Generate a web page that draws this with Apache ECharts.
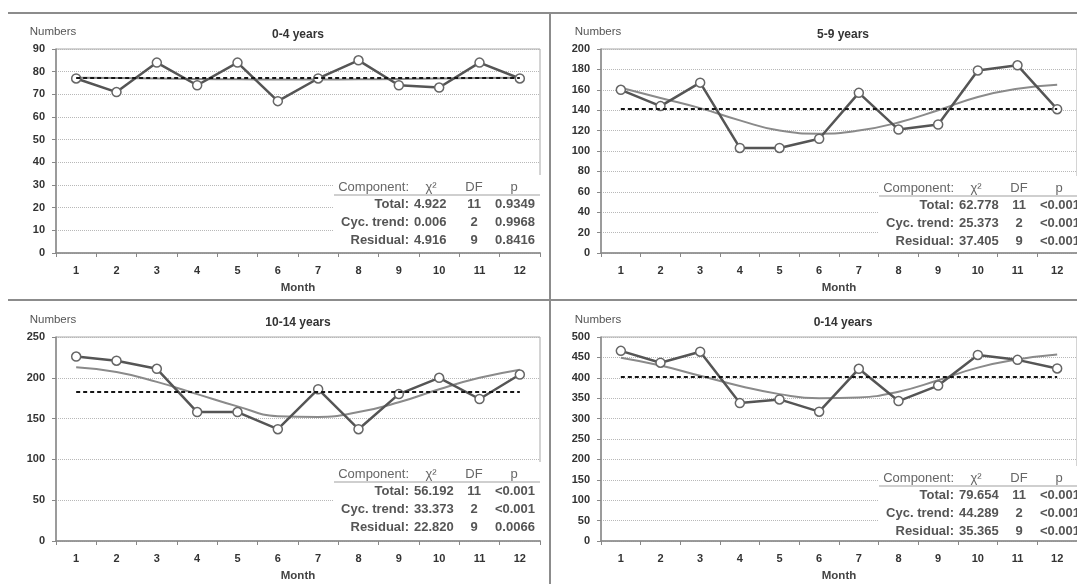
<!DOCTYPE html>
<html><head><meta charset="utf-8">
<script src="https://cdn.jsdelivr.net/npm/echarts@6/dist/echarts.min.js"></script>
<style>html,body{margin:0;padding:0;background:#fff}#c{width:1077px;height:584px}</style>
</head><body><div id="c"></div>
<script>
// ---------- data ----------
const months = ['1','2','3','4','5','6','7','8','9','10','11','12'];
const titles = ['0-4 years', '5-9 years', '10-14 years', '0-14 years'];

const obs0to4   = [77, 71, 84, 74, 84, 67, 77, 85, 74, 73, 84, 77];
const trend0to4 = [77.3, 77.2, 77.0, 76.8, 76.6, 76.5, 76.5, 76.6, 76.8, 77.0, 77.2, 77.3];

const obs5to9   = [160, 144, 167, 103, 103, 112, 157, 121, 126, 179, 184, 141];
const trend5to9 = [162, 152, 142, 130, 120, 117, 120, 128, 140, 153, 161, 165];

const obs10to14   = [226, 221, 211, 158, 158, 137, 186, 137, 180, 200, 174, 204];
const trend10to14 = [213, 207, 195, 180, 165, 153, 152, 158, 170, 186, 200, 210];

const obs0to14   = [466, 437, 464, 338, 347, 317, 422, 343, 381, 456, 444, 423];
const trend0to14 = [449, 430, 405, 380, 360, 350, 352, 366, 394, 425, 445, 457];

const means = [77.3, 141.3, 182.7, 403.2];
const yMax  = [90, 200, 250, 500];
const yStep = [10, 20, 50, 50];

const rowLabels = ['Total:', 'Cyc. trend:', 'Residual:'];
const dfValues  = ['11', '2', '9'];
const chi0to4   = ['4.922', '0.006', '4.916'];
const p0to4     = ['0.9349', '0.9968', '0.8416'];
const chi5to9   = ['62.778', '25.373', '37.405'];
const p5to9     = ['<0.001', '<0.001', '<0.001'];
const chi10to14 = ['56.192', '33.373', '22.820'];
const p10to14   = ['<0.001', '<0.001', '0.0066'];
const chi0to14  = ['79.654', '44.289', '35.365'];
const p0to14    = ['<0.001', '<0.001', '<0.001'];

const observed = [obs0to4, obs5to9, obs10to14, obs0to14];
const trends   = [trend0to4, trend5to9, trend10to14, trend0to14];
const chis     = [chi0to4, chi5to9, chi10to14, chi0to14];
const ps       = [p0to4, p5to9, p10to14, p0to14];

// ---------- layout ----------
const FONT = 'Liberation Sans';
const panels = [
  {left: 56, top: 49, head: 66},
  {left: 601, top: 49, head: 65},
  {left: 56, top: 337, head: 67},
  {left: 601, top: 337, head: 63}
];
const W = 484, H = 204;

const grid = [], xAxis = [], yAxis = [], series = [], graphic = [];

panels.forEach((p, i) => {
  grid.push({left: p.left, top: p.top, width: W, height: H, show: true,
    borderColor: '#a8a8a8', borderWidth: 1, containLabel: false});
  xAxis.push({
    type: 'category', gridIndex: i, data: months, boundaryGap: true,
    axisLine: {lineStyle: {color: '#888', width: 1.5}},
    axisTick: {show: true, length: 4, lineStyle: {color: '#888'}},
    axisLabel: {margin: 12, color: '#333', fontFamily: FONT, fontWeight: 'bold', fontSize: 11},
    name: 'Month', nameLocation: 'middle', nameGap: 29,
    nameTextStyle: {color: '#444', fontFamily: FONT, fontWeight: 'bold', fontSize: 11.5},
    splitLine: {show: false}
  });
  yAxis.push({
    type: 'value', gridIndex: i, min: 0, max: yMax[i], interval: yStep[i],
    axisLine: {show: true, lineStyle: {color: '#888', width: 1.5}},
    axisTick: {show: true, length: 4, lineStyle: {color: '#888'}},
    axisLabel: {margin: 11, color: '#333', fontFamily: FONT, fontWeight: 'bold', fontSize: 11},
    splitLine: {show: true, lineStyle: {color: '#b8b8b8', type: 'dotted', width: 1}}
  });
  series.push({
    type: 'line', xAxisIndex: i, yAxisIndex: i, data: trends[i], smooth: true,
    symbol: 'none', lineStyle: {color: '#8a8a8a', width: 2}, z: 2,
    markLine: {
      silent: true, symbol: ['none', 'none'], label: {show: false},
      lineStyle: {type: [4, 3], color: '#151515', width: 2},
      data: [[{coord: [months[0], means[i]]}, {coord: [months[11], means[i]]}]]
    }
  });
  series.push({
    type: 'line', xAxisIndex: i, yAxisIndex: i, data: observed[i],
    symbol: 'circle', symbolSize: 9,
    itemStyle: {color: '#fff', borderColor: '#666', borderWidth: 1.5},
    lineStyle: {color: '#555', width: 2.5}, z: 4
  });

  const L = p.left, B = p.top + H;
  const hy = B - p.head;
  graphic.push({type: 'text', x: L + W / 2, y: p.top - 14, z: 100,
    style: {text: titles[i], align: 'center', verticalAlign: 'middle',
      font: 'bold 12px "' + FONT + '"', fill: '#333'}});
  graphic.push({type: 'text', x: L - 3, y: p.top - 17, z: 100,
    style: {text: 'Numbers', align: 'center', verticalAlign: 'middle',
      font: '11.5px "' + FONT + '"', fill: '#555'}});
  graphic.push({type: 'rect', z: 90,
    shape: {x: L + 278, y: hy - 12, width: W - 277, height: B - 1 - (hy - 12)},
    style: {fill: '#fff'}});
  graphic.push({type: 'line', z: 95,
    shape: {x1: L + 278, y1: hy + 8, x2: L + W, y2: hy + 8},
    style: {stroke: '#a0a0a0', lineWidth: 1.2}});
  const hdrFont = '13px "' + FONT + '"';
  graphic.push({type: 'text', x: L + 353, y: hy, z: 100,
    style: {text: 'Component:', align: 'right', verticalAlign: 'middle', font: hdrFont, fill: '#666'}});
  graphic.push({type: 'text', x: L + 375, y: hy, z: 100,
    style: {text: 'χ²', align: 'center', verticalAlign: 'middle', font: hdrFont, fill: '#666'}});
  graphic.push({type: 'text', x: L + 418, y: hy, z: 100,
    style: {text: 'DF', align: 'center', verticalAlign: 'middle', font: hdrFont, fill: '#666'}});
  graphic.push({type: 'text', x: L + 458, y: hy, z: 100,
    style: {text: 'p', align: 'center', verticalAlign: 'middle', font: hdrFont, fill: '#666'}});
  const rowFont = 'bold 13px "' + FONT + '"';
  rowLabels.forEach((lab, r) => {
    const ry = hy + 17.5 + r * 17.8;
    graphic.push({type: 'text', x: L + 353, y: ry, z: 100,
      style: {text: lab, align: 'right', verticalAlign: 'middle', font: rowFont, fill: '#555'}});
    graphic.push({type: 'text', x: L + 358, y: ry, z: 100,
      style: {text: chis[i][r], align: 'left', verticalAlign: 'middle', font: rowFont, fill: '#555'}});
    graphic.push({type: 'text', x: L + 418, y: ry, z: 100,
      style: {text: dfValues[r], align: 'center', verticalAlign: 'middle', font: rowFont, fill: '#555'}});
    graphic.push({type: 'text', x: L + 459, y: ry, z: 100,
      style: {text: ps[i][r], align: 'center', verticalAlign: 'middle', font: rowFont, fill: '#555'}});
  });
});

graphic.push({type: 'line', z: 100, shape: {x1: 8, y1: 13, x2: 1077, y2: 13}, style: {stroke: '#8c8c8c', lineWidth: 2}});
graphic.push({type: 'line', z: 100, shape: {x1: 8, y1: 300, x2: 1077, y2: 300}, style: {stroke: '#8c8c8c', lineWidth: 2}});
graphic.push({type: 'line', z: 100, shape: {x1: 550, y1: 13, x2: 550, y2: 584}, style: {stroke: '#8c8c8c', lineWidth: 2}});

const chart = echarts.init(document.getElementById('c'));
chart.setOption({
  animation: false,
  backgroundColor: '#fff',
  textStyle: {fontFamily: FONT},
  grid, xAxis, yAxis, series, graphic
});
</script></body></html>
